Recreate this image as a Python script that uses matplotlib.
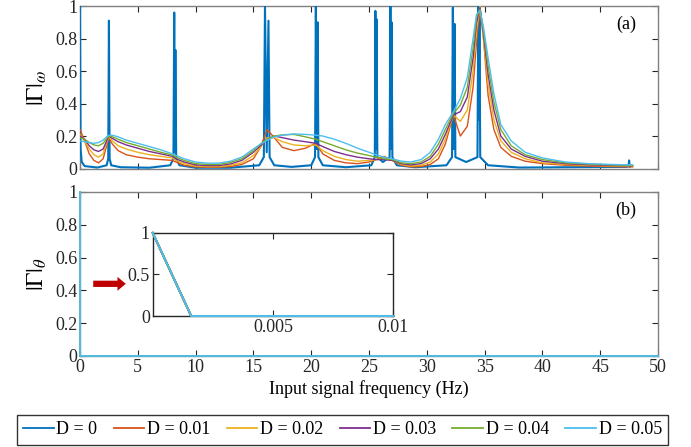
import matplotlib
matplotlib.use("Agg")
import matplotlib.pyplot as plt

plt.rcParams['font.family'] = ['Liberation Serif', 'DejaVu Serif']
plt.rcParams['mathtext.fontset'] = 'stix'

# legend labels and MATLAB default colours
labels = ['D = 0', 'D = 0.01', 'D = 0.02', 'D = 0.03', 'D = 0.04', 'D = 0.05']
colors = ['#0072BD', '#D95319', '#EDB120', '#7E2F8E', '#77AC30', '#4DBEEE']

# (a) D = 0 : sharp resonance spikes
f_d0 = [0, 0.05, 0.15, 0.4, 1.5, 2.3, 2.44, 2.5, 2.56, 2.7, 3.5, 6, 7.8, 8.08, 8.15, 8.2, 8.25,
        8.32, 8.6, 10, 13, 15.5, 15.9, 16.0, 16.15, 16.3, 16.4, 16.8, 18.3, 20.0, 20.33, 20.4,
        20.47, 20.55, 20.62, 21.0, 23, 25.2, 25.5, 25.55, 25.6, 25.65, 25.72, 26.2, 26.78,
        26.85, 26.9, 26.95, 27.02, 27.4, 29, 31.7, 32.18, 32.25, 32.32, 32.4, 32.47, 33.4,
        34.38, 34.45, 34.5, 34.55, 34.62, 35.3, 38, 47.3, 47.45, 47.5, 47.55]
g_d0 = [1.0, 0.12, 0.04, 0.015, 0.006, 0.02, 0.06, 0.91, 0.06, 0.02, 0.008, 0.005, 0.02, 0.06, 0.96, 0.1, 0.73,
        0.06, 0.02, 0.005, 0.005, 0.02, 0.07, 1.0, 0.1, 0.91, 0.07, 0.02, 0.01, 0.02, 0.07, 1.0,
        0.12, 0.9, 0.07, 0.02, 0.008, 0.02, 0.07, 0.97, 0.12, 0.92, 0.07, 0.04, 0.07,
        1.0, 0.12, 0.9, 0.07, 0.02, 0.008, 0.02, 0.07, 0.99, 0.12, 0.89, 0.07, 0.04,
        0.07, 1.0, 0.3, 0.97, 0.07, 0.02, 0.006, 0.01, 0.02, 0.05, 0.01]

# (a) D > 0 : common frequency grid
f_grid = [0, 0.4, 0.8, 1.2, 1.6, 2.0, 2.3, 2.5, 2.8, 3.3, 4, 5, 6, 7, 8, 8.3, 9, 10, 11, 12, 13,
          14, 15, 15.6, 16.2, 16.8, 17.5, 18.5, 19.5, 20.4, 21, 22, 23, 24, 25, 25.6, 26.3, 27,
          27.8, 28.6, 29.5, 30.3, 31, 31.6, 32.3, 32.9, 33.5, 34, 34.3, 34.6, 34.9, 35.3, 35.8,
          36.4, 37.3, 38.5, 40, 42, 44, 46, 47.8]
g_d001 = [0.24, 0.17, 0.09, 0.05, 0.035, 0.06, 0.14, 0.19, 0.15, 0.11, 0.085, 0.07, 0.06, 0.055, 0.05, 0.04, 0.02,
          0.01, 0.008, 0.008, 0.012, 0.025, 0.06, 0.13, 0.24, 0.19, 0.13, 0.11, 0.125, 0.155, 0.09, 0.05,
          0.035, 0.03, 0.04, 0.055, 0.075, 0.05, 0.02, 0.01, 0.012, 0.025, 0.06, 0.15, 0.33, 0.2, 0.26,
          0.5, 0.78, 0.99, 0.8, 0.45, 0.24, 0.13, 0.075, 0.045, 0.03, 0.02, 0.015, 0.012, 0.01]
g_d002 = [0.21, 0.17, 0.12, 0.085, 0.07, 0.09, 0.16, 0.195, 0.17, 0.14, 0.12, 0.1, 0.085, 0.075, 0.065, 0.05,
          0.03, 0.015, 0.012, 0.012, 0.02, 0.035, 0.08, 0.13, 0.19, 0.19, 0.165, 0.145, 0.14, 0.145, 0.11,
          0.075, 0.055, 0.045, 0.05, 0.055, 0.06, 0.05, 0.025, 0.015, 0.02, 0.04, 0.09, 0.18, 0.33, 0.29,
          0.36, 0.6, 0.85, 1.0, 0.8, 0.52, 0.3, 0.17, 0.1, 0.06, 0.035, 0.025, 0.02, 0.016, 0.013]
g_d003 = [0.2, 0.18, 0.14, 0.115, 0.105, 0.12, 0.17, 0.2, 0.185, 0.165, 0.145, 0.125, 0.105, 0.09, 0.075, 0.06,
          0.04, 0.022, 0.018, 0.018, 0.028, 0.05, 0.1, 0.14, 0.18, 0.2, 0.19, 0.175, 0.165, 0.155, 0.135,
          0.105, 0.085, 0.07, 0.06, 0.055, 0.055, 0.05, 0.03, 0.022, 0.03, 0.06, 0.12, 0.21, 0.33, 0.35,
          0.44, 0.68, 0.9, 0.99, 0.83, 0.58, 0.36, 0.2, 0.12, 0.075, 0.045, 0.03, 0.023, 0.019, 0.016]
g_d004 = [0.19, 0.18, 0.16, 0.145, 0.14, 0.155, 0.185, 0.2, 0.195, 0.18, 0.16, 0.14, 0.12, 0.1, 0.082, 0.07,
          0.05, 0.03, 0.025, 0.025, 0.037, 0.06, 0.11, 0.15, 0.18, 0.2, 0.207, 0.21, 0.195, 0.18, 0.165,
          0.14, 0.115, 0.095, 0.08, 0.07, 0.06, 0.055, 0.035, 0.03, 0.04, 0.075, 0.15, 0.24, 0.34, 0.39,
          0.5, 0.74, 0.93, 0.98, 0.85, 0.63, 0.41, 0.24, 0.14, 0.085, 0.055, 0.035, 0.027, 0.022, 0.019]
g_d005 = [0.17, 0.165, 0.16, 0.155, 0.16, 0.175, 0.195, 0.205, 0.205, 0.195, 0.175, 0.155, 0.135, 0.115, 0.09,
          0.08, 0.06, 0.04, 0.033, 0.033, 0.045, 0.07, 0.12, 0.15, 0.175, 0.195, 0.205, 0.213, 0.21, 0.205,
          0.2, 0.18, 0.155, 0.125, 0.1, 0.085, 0.07, 0.06, 0.045, 0.04, 0.055, 0.1, 0.18, 0.27, 0.35,
          0.43, 0.56, 0.8, 0.95, 0.97, 0.87, 0.68, 0.46, 0.27, 0.17, 0.1, 0.065, 0.04, 0.03, 0.025, 0.022]

# (b) all D give the same curve; inset shows its first 0.01 Hz
f_theta = [0, 0.0016, 50]
g_theta = [1, 0, 0]
f_theta_zoom = [0, 0.0016, 0.01]
g_theta_zoom = [1, 0, 0]

fig = plt.figure(figsize=(6.91, 4.47), dpi=100)
ax1 = fig.add_axes([0.1158, 0.623, 0.8365, 0.3635])
ax2 = fig.add_axes([0.1158, 0.2036, 0.8365, 0.367])


def style(ax, spine='#808080'):
    for s in ax.spines.values():
        s.set_color(spine)
        s.set_linewidth(1.0)
    ax.tick_params(direction='in', top=True, right=True, length=4, width=0.8,
                   color='#262626', labelsize=13, labelcolor='#262626', pad=2)


ax1.plot(f_d0, g_d0, color=colors[0], lw=1.5, zorder=3)
for g, c in zip([g_d001, g_d002, g_d003, g_d004, g_d005], colors[1:]):
    ax1.plot(f_grid, g, color=c, lw=1.0, zorder=3)
ax1.set_xlim(0, 50)
ax1.set_ylim(0, 1)
ax1.set_xticks(range(0, 51, 5))
ax1.set_xticklabels([])
ax1.set_yticks([0, 0.2, 0.4, 0.6, 0.8, 1])
ax1.set_yticklabels(['0', '0.2', '0.4', '0.6', '0.8', '1'])
ax1.set_ylabel(r'$|\Gamma|_\omega$', fontsize=17, labelpad=4)
ax1.text(0.945, 0.86, '(a)', transform=ax1.transAxes, fontsize=13, ha='center')
style(ax1)

lines = []
for lab, c in zip(labels, colors):
    ln, = ax2.plot(f_theta, g_theta, color=c, lw=1.3, label=lab, clip_on=False, zorder=3)
    lines.append(ln)
ax2.set_xlim(0, 50)
ax2.set_ylim(0, 1)
ax2.set_xticks(range(0, 51, 5))
ax2.set_yticks([0, 0.2, 0.4, 0.6, 0.8, 1])
ax2.set_yticklabels(['0', '0.2', '0.4', '0.6', '0.8', '1'])
ax2.set_ylabel(r'$|\Gamma|_\theta$', fontsize=17, labelpad=4)
ax2.set_xlabel('Input signal frequency (Hz)', fontsize=13, labelpad=3)
ax2.text(0.945, 0.86, '(b)', transform=ax2.transAxes, fontsize=13, ha='center')
style(ax2)

# inset zoom near 0 Hz
axin = fig.add_axes([0.221, 0.293, 0.348, 0.186])
for c in colors:
    axin.plot(f_theta_zoom, g_theta_zoom, color=c, lw=1.4, clip_on=False, zorder=3)
axin.set_xlim(0, 0.01)
axin.set_ylim(0, 1)
axin.set_xticks([0.005, 0.01])
axin.set_xticklabels(['0.005', '0.01'])
axin.set_yticks([0, 0.5, 1])
axin.set_yticklabels(['0', '0.5', '1'])
style(axin, spine='#262626')

# red arrow pointing at the inset
ax2.annotate('', xy=(4.2, 0.44), xytext=(0.9, 0.44), xycoords='data',
             arrowprops=dict(arrowstyle='simple,head_width=1.0,head_length=0.6,tail_width=0.45',
                             color='#C00000', lw=0))

fig.legend(lines, labels, loc='center', bbox_to_anchor=(0.4956, 0.0385), ncol=6,
           fontsize=13, frameon=True, fancybox=False, edgecolor='black',
           handlelength=1.7, handletextpad=0.15, columnspacing=0.9, borderpad=0.35)

fig.savefig('out.png', dpi=100)
